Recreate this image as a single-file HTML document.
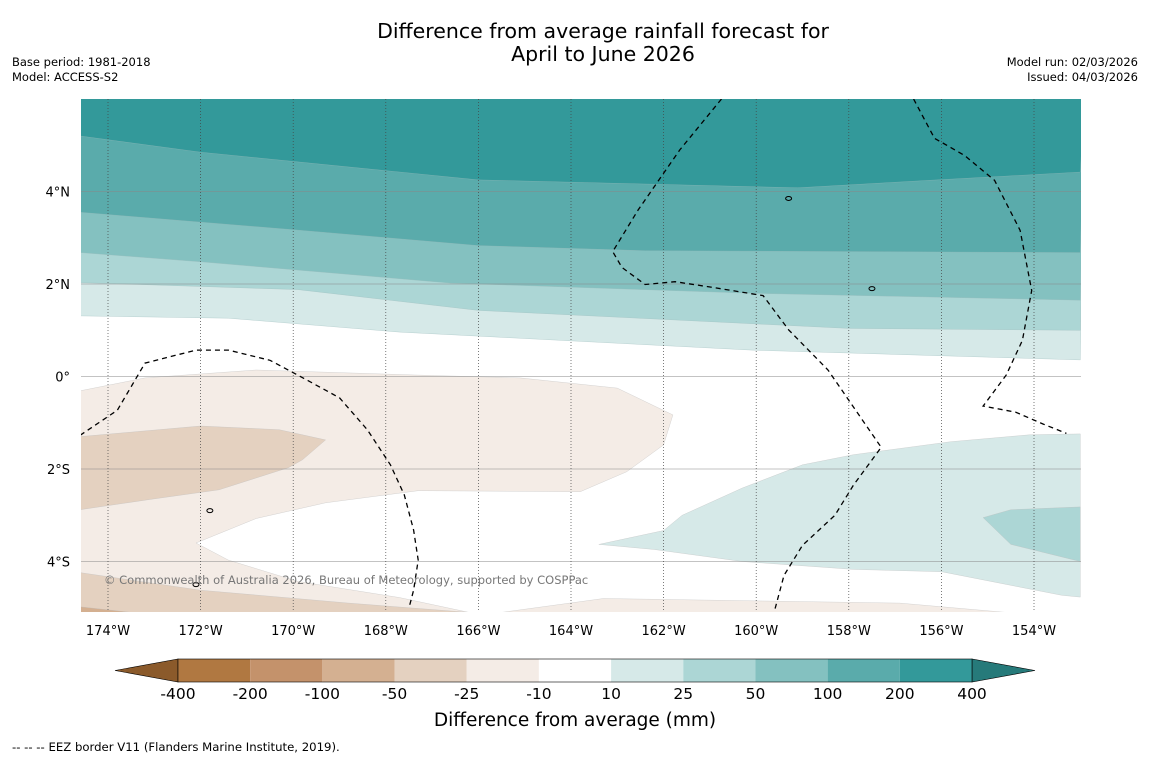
<!DOCTYPE html>
<html><head><meta charset="utf-8"><style>
body{margin:0;background:#fff;}
svg text{font-family:"DejaVu Sans","Liberation Sans",sans-serif;}
</style></head><body>
<svg id="c" width="1150" height="758" xmlns="http://www.w3.org/2000/svg">
<rect width="1150" height="758" fill="#fff"/>
<text x="603" y="38" font-size="20.5" text-anchor="middle">Difference from average rainfall forecast for</text>
<text x="603" y="61" font-size="20.5" text-anchor="middle">April to June 2026</text>
<text x="12" y="66" font-size="11.5">Base period: 1981-2018</text>
<text x="12" y="81" font-size="11.5">Model: ACCESS-S2</text>
<text x="1138" y="66" font-size="11.5" text-anchor="end">Model run: 02/03/2026</text>
<text x="1138" y="81" font-size="11.5" text-anchor="end">Issued: 04/03/2026</text>
<defs><clipPath id="mc"><rect x="81" y="99" width="1000" height="513"/></clipPath></defs>
<g id="map" clip-path="url(#mc)"></g>
<g id="axes"></g>
<g id="cbar"></g>
<text x="104" y="584" font-size="11.5" fill="#777">© Commonwealth of Australia 2026, Bureau of Meteorology, supported by COSPPac</text>
<text x="575" y="726" font-size="18.5" text-anchor="middle">Difference from average (mm)</text>
<text x="12" y="751" font-size="11.7">--  --  -- EEZ border V11 (Flanders Marine Institute, 2019).</text>
</svg>
<script>
const lonTicks=[-174,-172,-170,-168,-166,-164,-162,-160,-158,-156,-154];
const lonLabels=["174°W","172°W","170°W","168°W","166°W","164°W","162°W","160°W","158°W","156°W","154°W"];
const latTicks=[4,2,0,-2,-4];
const latLabels=["4°N","2°N","0°","2°S","4°S"];
const cbarLabels=["-400","-200","-100","-50","-25","-10","10","25","50","100","200","400"];
const cbarColors=["#b07841","#c4926b","#d4b091","#e4d1c0","#f4ece6","#ffffff","#d6e9e8","#acd6d5","#84c1c0","#5aabab","#33999a"];
const cbarEnds=["#8b5a2b","#267a7a"];
const bandTop200=[[-174.6,5.2],[-172,4.85],[-166,4.25],[-159.1,4.08],[-156.1,4.25],[-153,4.42]];
const bandTop100=[[-174.6,3.55],[-169.9,3.165],[-166,2.83],[-162.4,2.72],[-153,2.68]];
const bandTop50=[[-174.6,2.68],[-172,2.48],[-166.6,2.02],[-160.1,1.8],[-153,1.65]];
const bandTop25=[[-174.6,2.03],[-169.9,1.88],[-166,1.43],[-158,1.04],[-153,1.0]];
const bandTop10=[[-174.6,1.31],[-171.4,1.26],[-167.7,0.96],[-160.1,0.57],[-153,0.36]];
const brown25=[[-174.6,-0.31],[-173.2,-0.03],[-170.8,0.14],[-167.3,0.03],[-165.1,-0.03],[-163,-0.25],[-161.8,-0.83],[-162,-1.48],[-162.8,-2.06],[-163.8,-2.49],[-167.3,-2.47],[-169.3,-2.73],[-170.8,-3.07],[-172.1,-3.6],[-171.4,-3.97],[-169.9,-4.43],[-167.7,-4.78],[-166.2,-5.1],[-174.6,-5.1]];
const brown50a=[[-174.6,-1.3],[-172,-1.07],[-170.3,-1.15],[-169.3,-1.37],[-169.8,-1.8],[-170.1,-1.97],[-171.6,-2.45],[-173.1,-2.66],[-174.6,-2.88]];
const brown50b=[[-174.6,-4.24],[-172,-4.62],[-168.8,-4.9],[-166.2,-5.1],[-174.6,-5.1]];
const brown100=[[-174.6,-4.98],[-173.5,-5.1],[-174.6,-5.1]];
const brownBottom=[[-165.5,-5.1],[-163.3,-4.8],[-156.9,-4.9],[-154.6,-5.1]];
const teal10=[[-163.4,-3.63],[-162,-3.33],[-161.6,-3.0],[-160.3,-2.41],[-159,-1.91],[-157.9,-1.69],[-155.8,-1.41],[-154.1,-1.26],[-153,-1.24],[-153,-4.77],[-153.4,-4.73],[-156,-4.22],[-157.9,-4.17],[-160.3,-4.0],[-162.2,-3.74]];
const teal25=[[-155.1,-3.05],[-154.5,-2.88],[-153,-2.82],[-153,-4.0],[-154.5,-3.63]];
const eez1=[[-174.6,-1.27],[-173.8,-0.73],[-173.2,0.29],[-172.1,0.57],[-171.4,0.57],[-170.5,0.35],[-169.9,0.03],[-169,-0.46],[-168.4,-1.15],[-167.9,-1.91],[-167.6,-2.56],[-167.4,-3.32],[-167.3,-3.97],[-167.4,-4.62],[-167.5,-5.01]];
const eez2=[[-160.75,6],[-161.65,4.9],[-162.55,3.6],[-163.1,2.7],[-162.9,2.36],[-162.4,1.99],[-161.75,2.05],[-160.9,1.92],[-159.85,1.75],[-159.3,1.01],[-158.45,0.14],[-157.85,-0.73],[-157.3,-1.53],[-157.9,-2.35],[-158.3,-3.0],[-159,-3.65],[-159.4,-4.3],[-159.6,-5.05]];
const eez3=[[-156.6,6],[-156.15,5.15],[-155.5,4.78],[-154.85,4.24],[-154.3,3.16],[-154.05,1.86],[-154.25,0.78],[-154.6,0.03],[-155.1,-0.64],[-154.4,-0.77],[-153.8,-1.03],[-153.3,-1.23]];

const NS="http://www.w3.org/2000/svg";
const X=lon=>108+(lon+174)*46.3;
const Y=lat=>376.5-lat*46.25;
const map=document.getElementById('map'),axes=document.getElementById('axes'),cb=document.getElementById('cbar');
function mk(tag,at,parent){const e=document.createElementNS(NS,tag);for(const k in at)e.setAttribute(k,at[k]);parent.appendChild(e);return e;}
const pts=a=>a.map(p=>X(p[0]).toFixed(1)+','+Y(p[1]).toFixed(1)).join(' ');
function band(b,col,name){
  const a=[[-174.7,6.1]].concat(b).concat([[-152.9,6.1]]);
  const e=mk('polygon',{points:pts(a),fill:col,stroke:'#9bb',"stroke-width":0.3},map);
  
  
}
function poly(a,col,name){
  const e=mk('polygon',{points:pts(a),fill:col,stroke:'#bbb',"stroke-width":0.3},map);
  
  
}
band(bandTop10,cbarColors[6],'band-10-25');
band(bandTop25,cbarColors[7],'band-25-50');
band(bandTop50,cbarColors[8],'band-50-100');
band(bandTop100,cbarColors[9],'band-100-200');
band(bandTop200,cbarColors[10],'band-200-400');
poly(brown25,cbarColors[4],'band-minus10-25');
poly(brownBottom,cbarColors[4],'band-minus10-25-bottom');
poly(brown50a,cbarColors[3],'band-minus25-50');
poly(brown50b,cbarColors[3],'band-minus25-50-bottom');
poly(brown100,cbarColors[2],'band-minus50-100');
poly(teal10,cbarColors[6],'band-10-25-south');
poly(teal25,cbarColors[7],'band-25-50-south');
latTicks.forEach((v,i)=>{const e=mk('line',{x1:81,x2:1081,y1:Y(v),y2:Y(v),stroke:'#888','stroke-width':0.6},map);


const t=mk('text',{x:70,y:Y(v)+5,'font-size':13,'text-anchor':'end'},axes);t.textContent=latLabels[i];

});
lonTicks.forEach((v,i)=>{const e=mk('line',{x1:X(v),x2:X(v),y1:99,y2:612,stroke:'#444','stroke-width':0.7,'stroke-dasharray':'1,2'},map);


const t=mk('text',{x:X(v),y:635,'font-size':13,'text-anchor':'middle'},axes);t.textContent=lonLabels[i];

});
[eez1,eez2,eez3].forEach(a=>{const e=mk('polyline',{points:pts(a),fill:'none',stroke:'#000','stroke-width':1.3,'stroke-dasharray':'5,4'},map);

});
[[-159.3,3.85],[-157.5,1.9],[-171.8,-2.9],[-172.1,-4.5]].forEach(p=>{const e=mk('ellipse',{cx:X(p[0]),cy:Y(p[1]),rx:3,ry:2,fill:'none',stroke:'#000','stroke-width':1},map);

});
const x0=178,w=(972-178)/cbarColors.length;
const l=mk('polygon',{points:`115,670.5 ${x0},659 ${x0},682`,fill:cbarEnds[0],stroke:'#000','stroke-width':0.6},cb);


const r=mk('polygon',{points:`1035,670.5 972,659 972,682`,fill:cbarEnds[1],stroke:'#000','stroke-width':0.6},cb);


cbarColors.forEach((c,i)=>{const e=mk('rect',{x:x0+i*w,y:659,width:w,height:23,fill:c},cb);

});
mk('rect',{x:x0,y:659,width:972-x0,height:23,fill:'none',stroke:'#000','stroke-width':0.6},cb);
cbarLabels.forEach((s,i)=>{const t=mk('text',{x:x0+i*w,y:699,'font-size':15.5,'text-anchor':'middle'},cb);t.textContent=s;

});
</script>
</body></html>
